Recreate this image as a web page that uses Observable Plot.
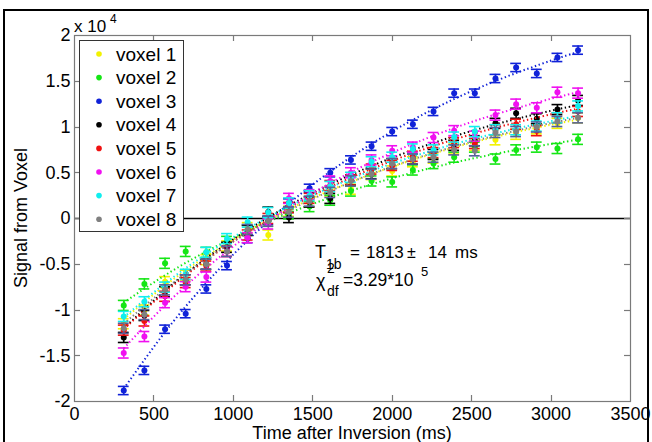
<!DOCTYPE html>
<html>
<head>
<meta charset="utf-8">
<script src="https://cdn.jsdelivr.net/npm/d3@7"></script>
<script src="https://cdn.jsdelivr.net/npm/@observablehq/plot@0.6"></script>
<style>
  html, body { margin: 0; padding: 0; background: #fff; }
  #chart { width: 652px; height: 442px; overflow: hidden; }
</style>
</head>
<body>
<div id="chart"></div>
<script>
// ---- data (signal values) ----
const times = [310, 440, 570, 700, 830, 960, 1090, 1220, 1350, 1480, 1610, 1740, 1870, 2000, 2130, 2260, 2390, 2520, 2650, 2780, 2910, 3040, 3170];
const voxelNames = ["voxel 1", "voxel 2", "voxel 3", "voxel 4", "voxel 5", "voxel 6", "voxel 7", "voxel 8"];

const voxel1 = [-11500, -10000, -6900, -6200, -4500, -3000, -1000, -1800, 800, 1800, 3000, 3200, 4800, 5200, 6200, 6600, 7600, 8000, 8600, 9200, 9800, 10400, 11000];
const voxel2 = [-9500, -7150, -4900, -3600, -3700, -2500, -1300, -300, 500, 1300, 2000, 3000, 4100, 4000, 5300, 6000, 6700, 7800, 6500, 7500, 7800, 7650, 8650];
const voxel3 = [-18800, -16600, -12100, -10400, -7700, -5150, -2200, -200, 1700, 3300, 5000, 6400, 7900, 9500, 10300, 11700, 13700, 13700, 15300, 16500, 15850, 17600, 18400];
const voxel4 = [-13000, -10600, -8000, -6700, -5000, -3150, -1300, 700, 100, 1800, 2200, 4200, 4900, 6000, 6500, 7000, 8000, 8500, 10400, 11500, 10900, 11900, 12900];
const voxel5 = [-12200, -11200, -8500, -7000, -5200, -3600, -1800, 0, 1200, 2200, 3600, 4200, 5400, 5800, 6800, 7200, 8300, 8200, 9700, 10300, 9600, 11000, 11700];
const voxel6 = [-14700, -12900, -9200, -7450, -6400, -3600, -2100, -600, 2200, 2600, 4100, 5000, 6400, 7400, 7800, 8850, 9600, 9000, 11300, 12500, 12100, 13800, 13700];
const voxel7 = [-10700, -9100, -7500, -6100, -3700, -2200, -400, 650, 1700, 2500, 3500, 4500, 6200, 6700, 7600, 7500, 8900, 9500, 9700, 9700, 10100, 11000, 12300];
const voxel8 = [-12000, -10500, -7800, -6700, -5000, -3600, -1200, -300, 700, 1900, 2850, 4100, 4850, 6000, 6500, 6700, 7500, 7400, 9400, 9500, 10000, 10600, 11000];
const voxelErr = [550, 550, 450, 550, 550, 550, 550, 550];

// fitted curves (T1b = 1813 ms)
const fitTimes = [310, 600, 900, 1200, 1500, 1800, 2100, 2400, 2700, 3000, 3170];
const fit1 = [-11000, -6930, -3360, -340, 2230, 4400, 6240, 7810, 9130, 10250, 10800];
const fit2 = [-9200, -5880, -2970, -500, 1600, 3370, 4880, 6150, 7230, 8150, 8600];
const fit3 = [-18600, -11740, -5720, -610, 3720, 7390, 10500, 13140, 15370, 17260, 18200];
const fit4 = [-12000, -7460, -3460, -80, 2800, 5230, 7290, 9040, 10520, 11780, 12400];
const fit5 = [-12100, -7610, -3660, -320, 2520, 4920, 6960, 8690, 10140, 11390, 12000];
const fit6 = [-14200, -8980, -4400, -510, 2780, 5580, 7940, 9950, 11640, 13090, 13800];
const fit7 = [-10800, -6700, -3100, -40, 2550, 4740, 6600, 8180, 9510, 10640, 11200];
const fit8 = [-11500, -7310, -3620, -500, 2150, 4390, 6290, 7910, 9270, 10430, 11000];

const xTicks = [0, 500, 1000, 1500, 2000, 2500, 3000, 3500];
const yTicks = [-20000, -15000, -10000, -5000, 0, 5000, 10000, 15000, 20000];

// ---- styles ----
const colors = ["#f2f200", "#14e614", "#1022d8", "#000000", "#f01010", "#f010f0", "#10eeee", "#808080"];
const barColors = ["#f2f200", "#14e614", "#1022d8", "#000000", "#f01010", "#f010f0", "#10eeee", "#56609a"];

const values = [voxel1, voxel2, voxel3, voxel4, voxel5, voxel6, voxel7, voxel8];
const fits = [fit1, fit2, fit3, fit4, fit5, fit6, fit7, fit8];
const FONT = "'Liberation Sans', Arial, Helvetica, sans-serif";

const marks = [];
values.forEach((vals, i) => {
  const rows = times.map((t, j) => ({t, v: vals[j]}));
  const fitRows = fitTimes.map((t, j) => ({t, v: fits[i][j]}));
  const e = voxelErr[i];
  marks.push(
    Plot.ruleX(rows, {x: "t", y1: d => d.v - e, y2: d => d.v + e, stroke: barColors[i], strokeWidth: 1.6}),
    Plot.ruleY(rows, {y: d => d.v - e, x1: d => d.t - 34, x2: d => d.t + 34, stroke: barColors[i], strokeWidth: 1.6}),
    Plot.ruleY(rows, {y: d => d.v + e, x1: d => d.t - 34, x2: d => d.t + 34, stroke: barColors[i], strokeWidth: 1.6}),
    Plot.dot(rows, {x: "t", y: "v", r: 3, fill: colors[i], stroke: "none"}),
    Plot.line(fitRows, {x: "t", y: "v", curve: "natural", stroke: colors[i], strokeWidth: 2, strokeLinecap: "butt", strokeDasharray: "1.4 2.6"})
  );
});

const chart = Plot.plot({
  width: 652,
  height: 442,
  marginLeft: 74,
  marginRight: 22,
  marginTop: 35,
  marginBottom: 41,
  x: {domain: [0, 3500]},
  y: {domain: [-20000, 20000]},
  style: {fontFamily: FONT, fontSize: "18px", background: "#fff", color: "#000"},
  marks: [
    Plot.axisX({ticks: xTicks, tickSize: 0, tickPadding: 6, label: null, fontSize: 18, tickFormat: d => String(d)}),
    Plot.axisY({ticks: yTicks, tickSize: 0, tickPadding: 4, label: null, fontSize: 18, tickFormat: d => String(d / 1e4)}),
    Plot.ruleY([0], {stroke: "#000", strokeWidth: 1.6}),
    ...marks,
    Plot.frame({stroke: "#7a7a7a", strokeWidth: 1.2})
  ]
});

document.getElementById("chart").appendChild(chart);

// ---- decorations drawn through the plot's scales ----
const sx = chart.scale("x"), sy = chart.scale("y");
const L = sx.apply(0), R = sx.apply(3500), T = sy.apply(20000), B = sy.apply(-20000);
const svg = d3.select(chart);

const g = svg.append("g").attr("stroke", "#7a7a7a").attr("stroke-width", 1.2);
xTicks.slice(1, -1).forEach(v => {
  const x = Math.round(sx.apply(v)) + 0.5;
  g.append("line").attr("x1", x).attr("x2", x).attr("y1", B).attr("y2", B - 6);
  g.append("line").attr("x1", x).attr("x2", x).attr("y1", T).attr("y2", T + 6);
});
yTicks.slice(1, -1).forEach(v => {
  const y = Math.round(sy.apply(v)) + 0.5;
  g.append("line").attr("x1", L).attr("x2", L + 6).attr("y1", y).attr("y2", y);
  g.append("line").attr("x1", R).attr("x2", R - 6).attr("y1", y).attr("y2", y);
});

const txt = (parent) => parent.append("text").attr("font-family", FONT).attr("fill", "#000").attr("text-anchor", "start");

// exponent label
const ex = txt(svg);
ex.append("tspan").attr("x", L).attr("y", 32).attr("font-size", 17).text("x 10");
ex.append("tspan").attr("x", L + 36).attr("y", 23).attr("font-size", 12).text("4");

// axis labels
txt(svg).attr("x", (L + R) / 2).attr("y", 439).attr("text-anchor", "middle")
  .attr("font-size", 18).text("Time after Inversion (ms)");
txt(svg).attr("transform", `translate(27,${(T + B) / 2}) rotate(-90)`).attr("text-anchor", "middle")
  .attr("font-size", 18).text("Signal from Voxel");

// annotation
const ann = [
  {x: 315, y: 258, s: 18, t: "T"},
  {x: 326, y: 269, s: 14, t: "1b"},
  {x: 350, y: 258, s: 17, t: "="},
  {x: 366, y: 258, s: 17, t: "1813"},
  {x: 407, y: 258, s: 16, t: "±"},
  {x: 428, y: 258, s: 17, t: "14"},
  {x: 455, y: 258, s: 17, t: "ms"},
  {x: 316, y: 287, s: 18, t: "χ"},
  {x: 327, y: 273, s: 14, t: "2"},
  {x: 327, y: 296, s: 14, t: "df"},
  {x: 343, y: 286, s: 17.5, t: "=3.29*10"},
  {x: 421, y: 276, s: 13, t: "5"}
];
ann.forEach(a => txt(svg).attr("x", a.x).attr("y", a.y).attr("font-size", a.s).text(a.t));

// legend
const lg = svg.append("g");
lg.append("rect").attr("x", 79.5).attr("y", 40.5).attr("width", 104).attr("height", 191)
  .attr("fill", "#fff").attr("stroke", "#333").attr("stroke-width", 1);
voxelNames.forEach((n, i) => {
  const cy = 54 + i * 23.6;
  lg.append("circle").attr("cx", 99).attr("cy", cy).attr("r", 2.8).attr("fill", colors[i]);
  txt(lg).attr("x", 116).attr("y", cy + 6.5).attr("font-size", 19).text(n);
});

// figure border
svg.append("rect").attr("x", 4).attr("y", 10).attr("width", 644).attr("height", 445)
  .attr("fill", "none").attr("stroke", "#000").attr("stroke-width", 2);
</script>
</body>
</html>
